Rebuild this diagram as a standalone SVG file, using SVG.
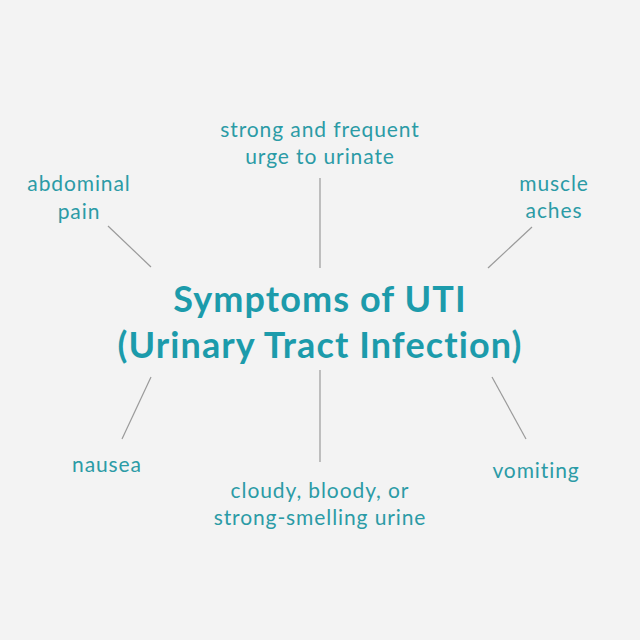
<svg xmlns="http://www.w3.org/2000/svg" width="640" height="640" viewBox="0 0 640 640">
<style>
.lbl{font-family:Lato,"Noto Sans","Liberation Sans",sans-serif;font-size:21px;letter-spacing:0.9px;fill:#2b9ba6;text-anchor:middle}
.ttl{font-family:Lato,"Noto Sans","Liberation Sans",sans-serif;font-size:36px;letter-spacing:1.1px;font-weight:bold;fill:#1c9bab;text-anchor:middle;font-variant-ligatures:none}
.con line{stroke:#9a9a9a;stroke-width:1.2}
</style>
<rect width="640" height="640" fill="#f3f3f3"/>
<g id="connectors" class="con">
<line x1="320" y1="178" x2="320" y2="268"/>
<line x1="108" y1="226" x2="151" y2="267"/>
<line x1="532" y1="227" x2="488" y2="268"/>
<line x1="151" y1="377" x2="122" y2="439"/>
<line x1="492" y1="377" x2="526" y2="439"/>
<line x1="320" y1="370" x2="320" y2="462"/>
</g>
<g id="center"><text class="ttl" x="320" y="312">Symptoms of UTI</text><text class="ttl" x="320" y="358">(Urinary Tract Infection)</text></g>
<g id="urge"><text class="lbl" x="320" y="137">strong and frequent</text><text class="lbl" x="320" y="164">urge to urinate</text></g>
<g id="abdominal"><text class="lbl" x="79" y="191">abdominal</text><text class="lbl" x="79" y="219">pain</text></g>
<g id="muscle"><text class="lbl" x="554" y="191">muscle</text><text class="lbl" x="554" y="218">aches</text></g>
<g id="nausea"><text class="lbl" x="107" y="472">nausea</text></g>
<g id="vomiting"><text class="lbl" x="536" y="478">vomiting</text></g>
<g id="urine"><text class="lbl" x="320" y="498">cloudy, bloody, or</text><text class="lbl" x="320" y="525">strong-smelling urine</text></g>
</svg>
